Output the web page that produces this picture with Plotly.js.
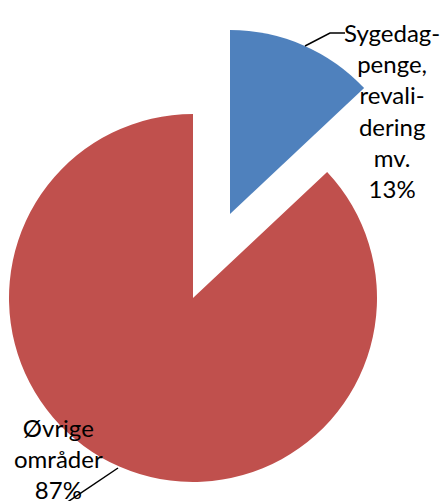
<!DOCTYPE html>
<html>
<head>
<meta charset="utf-8">
<script src="https://cdn.plot.ly/plotly-3.0.1.min.js"></script>
<style>html,body{margin:0;padding:0;background:#fff;}#chart{width:443px;height:501px;}</style>
</head>
<body>
<div id="chart"></div>
<script>
var categories = ["Sygedagpenge, revalidering mv.", "Øvrige områder"];
var shares = [13, 87];
var labelTexts = ["Sygedag-<br>penge,<br>revali-<br>dering<br>mv.<br>13%", "Øvrige<br>områder<br>87%"];
var sliceColors = ["#4F81BD", "#C0504D"];

var W = 443, H = 501;
function px(x){ return x / W; }
function py(y){ return 1 - y / H; }

var common = {
  type: 'pie',
  labels: categories,
  values: shares,
  sort: false,
  direction: 'clockwise',
  rotation: 0,
  textinfo: 'none',
  hoverinfo: 'skip',
  showlegend: false
};

var blueTrace = Object.assign({}, common, {
  marker: {colors: [sliceColors[0], 'rgba(0,0,0,0)'], line: {width: 0}},
  domain: {x: [px(46), px(414)], y: [1 - 398/H, 1 - 30/H]}
});
var redTrace = Object.assign({}, common, {
  marker: {colors: ['rgba(0,0,0,0)', sliceColors[1]], line: {width: 0}},
  domain: {x: [px(9), px(377)], y: [1 - 482/H, 1 - 114/H]}
});

var font = {family: 'Lato, "Liberation Sans", Arial, sans-serif', size: 24, color: '#000'};

var layout = {
  width: W, height: H,
  margin: {l: 0, r: 0, t: 0, b: 0},
  paper_bgcolor: '#fff',
  plot_bgcolor: '#fff',
  annotations: [
    {xref: 'paper', yref: 'paper', x: px(392), y: py(110), xanchor: 'center', yanchor: 'middle',
     text: labelTexts[0], showarrow: false, align: 'center', font: font},
    {xref: 'paper', yref: 'paper', x: px(59), y: py(458), xanchor: 'center', yanchor: 'middle',
     text: labelTexts[1], showarrow: false, align: 'center', font: font}
  ],
  shapes: [
    {type: 'path', xref: 'paper', yref: 'paper',
     path: 'M ' + px(305) + ',' + py(46) + ' L ' + px(330) + ',' + py(33) + ' L ' + px(345) + ',' + py(33),
     line: {color: '#000', width: 1.5}},
    {type: 'line', xref: 'paper', yref: 'paper',
     x0: px(118), y0: py(468), x1: px(66), y1: py(503),
     line: {color: '#000', width: 1.5}}
  ]
};

Plotly.newPlot('chart', [redTrace, blueTrace], layout, {displayModeBar: false, staticPlot: true});
</script>
</body>
</html>
